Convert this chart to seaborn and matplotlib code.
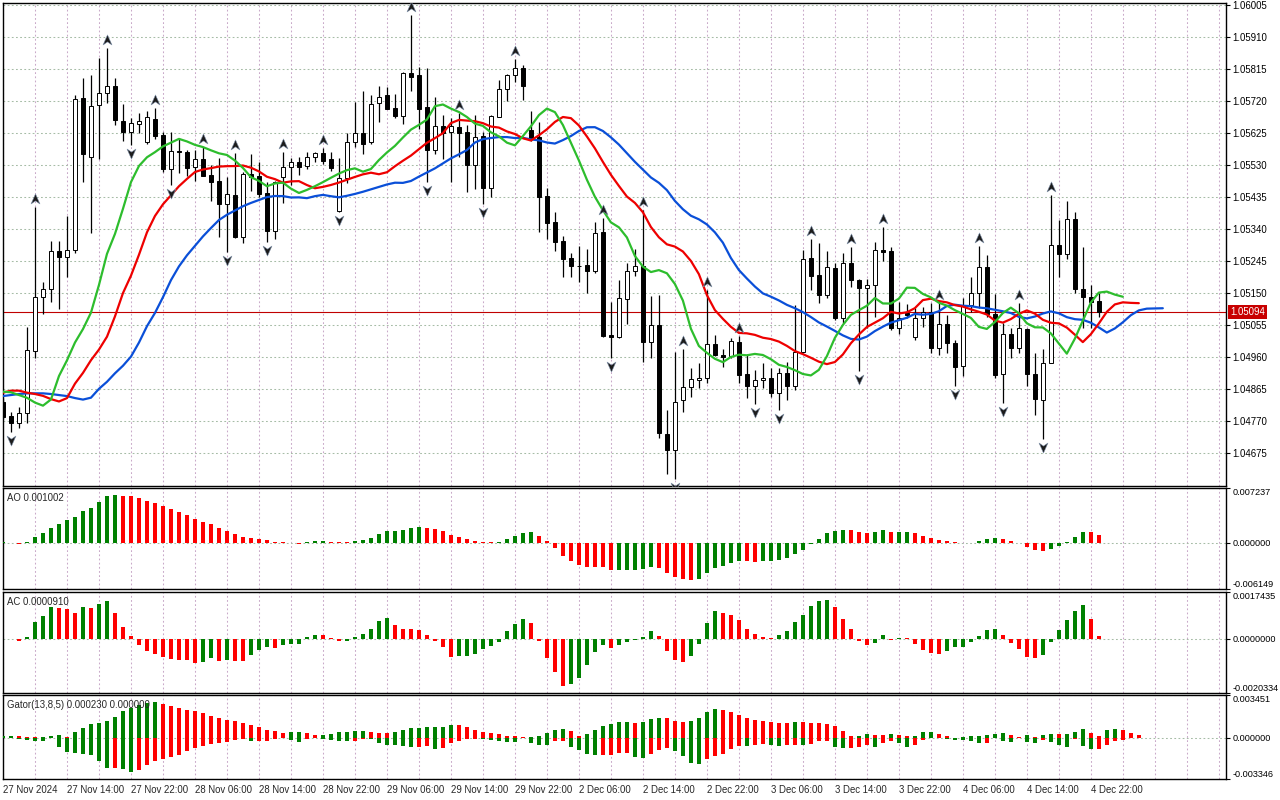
import numpy as np
import matplotlib
matplotlib.use("Agg")
import matplotlib.pyplot as plt
from matplotlib.path import Path
from matplotlib.transforms import offset_copy, blended_transform_factory
from matplotlib.ticker import MultipleLocator, FormatStrFormatter
import seaborn as sns

# EURUSD H1, 27 Nov 06:00 .. 4 Dec 23:00
opens = [1.04827, 1.04784, 1.04765, 1.04794, 1.04979, 1.05137, 1.05161, 1.05275, 1.05258, 1.05278,
         1.05728, 1.05555, 1.05707, 1.05743, 1.05765, 1.05661, 1.05627, 1.05651, 1.05597, 1.05667,
         1.05619, 1.05517, 1.05572, 1.05568, 1.05525, 1.05547, 1.05500, 1.05481, 1.05414, 1.05441,
         1.05317, 1.05503, 1.05497, 1.05448, 1.05335, 1.05493, 1.05525, 1.05538, 1.05528, 1.05553,
         1.05567, 1.05547, 1.05394, 1.05490, 1.05599, 1.05624, 1.05597, 1.05713, 1.05738, 1.05698,
         1.05676, 1.05804, 1.05797, 1.05701, 1.05573, 1.05646, 1.05627, 1.05644, 1.05627, 1.05531,
         1.05616, 1.05463, 1.05673, 1.05755, 1.05796, 1.05817, 1.05634, 1.05612, 1.05438, 1.05362,
         1.05304, 1.05255, 1.05231, 1.05233, 1.05216, 1.05332, 1.05025, 1.05018, 1.05132, 1.05215,
         1.05230, 1.05005, 1.05055, 1.04731, 1.04685, 1.04832, 1.04872, 1.04893, 1.04899, 1.04998,
         1.04966, 1.04963, 1.05005, 1.04909, 1.04875, 1.04891, 1.04899, 1.04852, 1.04911, 1.04875,
         1.04976, 1.05253, 1.05203, 1.05144, 1.05223, 1.05075, 1.05238, 1.05188, 1.05164, 1.05174,
         1.05279, 1.05276, 1.05045, 1.05091, 1.05018, 1.05075, 1.05094, 1.04987, 1.05058, 1.05002,
         1.04934, 1.05114, 1.05149, 1.05226, 1.05089, 1.04908, 1.05027, 1.04988, 1.05043, 1.04909,
         1.04832, 1.04941, 1.05292, 1.05266, 1.05369, 1.05161, 1.05137, 1.05126]
highs = [1.04837, 1.04797, 1.04810, 1.05050, 1.05406, 1.05183, 1.05305, 1.05305, 1.05378, 1.05738,
         1.05789, 1.05797, 1.05849, 1.05878, 1.05789, 1.05711, 1.05669, 1.05683, 1.05690, 1.05698,
         1.05629, 1.05627, 1.05609, 1.05573, 1.05575, 1.05583, 1.05529, 1.05550, 1.05495, 1.05565,
         1.05510, 1.05563, 1.05538, 1.05478, 1.05481, 1.05570, 1.05550, 1.05555, 1.05570, 1.05570,
         1.05579, 1.05570, 1.05550, 1.05624, 1.05718, 1.05751, 1.05738, 1.05763, 1.05761, 1.05741,
         1.05807, 1.05975, 1.05822, 1.05817, 1.05731, 1.05678, 1.05669, 1.05683, 1.05649, 1.05678,
         1.05629, 1.05678, 1.05782, 1.05800, 1.05844, 1.05827, 1.05690, 1.05659, 1.05461, 1.05390,
         1.05319, 1.05268, 1.05289, 1.05282, 1.05362, 1.05372, 1.05124, 1.05188, 1.05238, 1.05282,
         1.05396, 1.05141, 1.05144, 1.04804, 1.04976, 1.04985, 1.04926, 1.04941, 1.05159, 1.05025,
         1.04985, 1.05015, 1.05022, 1.04968, 1.04921, 1.04941, 1.04926, 1.04926, 1.04944, 1.05114,
         1.05278, 1.05309, 1.05297, 1.05276, 1.05238, 1.05268, 1.05287, 1.05190, 1.05190, 1.05302,
         1.05347, 1.05285, 1.05124, 1.05117, 1.05104, 1.05109, 1.05119, 1.05121, 1.05084, 1.05010,
         1.05134, 1.05198, 1.05289, 1.05263, 1.05147, 1.05060, 1.05045, 1.05121, 1.05045, 1.04971,
         1.04983, 1.05441, 1.05367, 1.05423, 1.05390, 1.05287, 1.05174, 1.05149]
lows = [1.04775, 1.04738, 1.04748, 1.04765, 1.04958, 1.05089, 1.05124, 1.05101, 1.05196, 1.05268,
        1.05480, 1.05329, 1.05548, 1.05713, 1.05649, 1.05601, 1.05589, 1.05624, 1.05592, 1.05606,
        1.05510, 1.05471, 1.05505, 1.05497, 1.05483, 1.05497, 1.05424, 1.05317, 1.05273, 1.05312,
        1.05297, 1.05454, 1.05436, 1.05300, 1.05309, 1.05416, 1.05471, 1.05500, 1.05518, 1.05538,
        1.05533, 1.05512, 1.05391, 1.05476, 1.05584, 1.05563, 1.05592, 1.05659, 1.05696, 1.05669,
        1.05651, 1.05751, 1.05637, 1.05480, 1.05563, 1.05548, 1.05480, 1.05555, 1.05451, 1.05458,
        1.05413, 1.05434, 1.05672, 1.05721, 1.05777, 1.05723, 1.05600, 1.05332, 1.05310, 1.05276,
        1.05196, 1.05198, 1.05183, 1.05149, 1.05210, 1.05018, 1.04956, 1.05015, 1.05057, 1.05200,
        1.04946, 1.04958, 1.04718, 1.04614, 1.04599, 1.04797, 1.04842, 1.04867, 1.04884, 1.04963,
        1.04931, 1.04956, 1.04884, 1.04839, 1.04820, 1.04867, 1.04840, 1.04802, 1.04832, 1.04862,
        1.04971, 1.05159, 1.05119, 1.05134, 1.05070, 1.05062, 1.05167, 1.04919, 1.05045, 1.05080,
        1.05246, 1.05040, 1.05027, 1.05075, 1.05010, 1.05048, 1.04971, 1.04966, 1.04973, 1.04875,
        1.04904, 1.05094, 1.05104, 1.05078, 1.04899, 1.04822, 1.04956, 1.04971, 1.04875, 1.04787,
        1.04716, 1.04941, 1.05198, 1.05250, 1.05149, 1.05045, 1.05045, 1.05078]
closes = [1.04783, 1.04765, 1.04794, 1.04981, 1.05139, 1.05161, 1.05275, 1.05258, 1.05278, 1.05726,
          1.05562, 1.05705, 1.05743, 1.05765, 1.05664, 1.05627, 1.05654, 1.05660, 1.05671, 1.05617,
          1.05517, 1.05572, 1.05569, 1.05520, 1.05547, 1.05498, 1.05480, 1.05414, 1.05444, 1.05317,
          1.05503, 1.05493, 1.05444, 1.05335, 1.05478, 1.05523, 1.05538, 1.05525, 1.05553, 1.05565,
          1.05542, 1.05520, 1.05490, 1.05599, 1.05624, 1.05592, 1.05710, 1.05733, 1.05697, 1.05676,
          1.05802, 1.05792, 1.05697, 1.05573, 1.05646, 1.05624, 1.05646, 1.05626, 1.05531, 1.05612,
          1.05463, 1.05675, 1.05755, 1.05796, 1.05817, 1.05763, 1.05606, 1.05436, 1.05359, 1.05302,
          1.05250, 1.05231, 1.05230, 1.05216, 1.05327, 1.05023, 1.05020, 1.05134, 1.05215, 1.05230,
          1.05005, 1.05055, 1.04733, 1.04685, 1.04827, 1.04872, 1.04894, 1.04899, 1.04998, 1.04966,
          1.04959, 1.05007, 1.04906, 1.04875, 1.04891, 1.04899, 1.04852, 1.04911, 1.04875, 1.04976,
          1.05250, 1.05200, 1.05144, 1.05226, 1.05075, 1.05238, 1.05188, 1.05164, 1.05174, 1.05279,
          1.05273, 1.05045, 1.05075, 1.05085, 1.05075, 1.05094, 1.04987, 1.05058, 1.05000, 1.04931,
          1.05114, 1.05149, 1.05226, 1.05089, 1.04906, 1.05027, 1.04988, 1.05045, 1.04908, 1.04834,
          1.04941, 1.05292, 1.05266, 1.05369, 1.05161, 1.05137, 1.05124, 1.05094]

# Awesome Oscillator values per bar
ao = [0.00002, 0.00000, -0.00013, 0.00005, 0.00075, 0.00124, 0.00194, 0.00243, 0.00296, 0.00336,
      0.00415, 0.00464, 0.00539, 0.00614, 0.00628, 0.00614, 0.00612, 0.00588, 0.00553, 0.00522,
      0.00482, 0.00442, 0.00402, 0.00362, 0.00309, 0.00270, 0.00243, 0.00190, 0.00155, 0.00111,
      0.00071, 0.00057, 0.00044, 0.00031, 0.00009, 0.00004, -0.00002, -0.00013, 0.00009, 0.00018,
      0.00019, 0.00013, 0.00004, 0.00003, 0.00018, 0.00031, 0.00057, 0.00111, 0.00150, 0.00151,
      0.00164, 0.00190, 0.00203, 0.00194, 0.00177, 0.00150, 0.00097, 0.00071, 0.00044, 0.00018,
      0.00009, 0.00002, 0.00004, 0.00044, 0.00084, 0.00124, 0.00137, 0.00084, 0.00018, -0.00066,
      -0.00177, -0.00248, -0.00301, -0.00323, -0.00325, -0.00327, -0.00365, -0.00363, -0.00362, -0.00361,
      -0.00354, -0.00323, -0.00336, -0.00402, -0.00455, -0.00486, -0.00499, -0.00486, -0.00407, -0.00340,
      -0.00314, -0.00274, -0.00248, -0.00250, -0.00252, -0.00250, -0.00247, -0.00234, -0.00208, -0.00155,
      -0.00102, -0.00022, 0.00053, 0.00124, 0.00159, 0.00172, 0.00171, 0.00146, 0.00133, 0.00137,
      0.00164, 0.00137, 0.00146, 0.00147, 0.00124, 0.00084, 0.00057, 0.00031, 0.00018, 0.00009,
      -0.00009, -0.00002, 0.00018, 0.00044, 0.00057, 0.00044, 0.00018, -0.00009, -0.00057, -0.00093,
      -0.00111, -0.00084, -0.00044, 0.00005, 0.00072, 0.00143, 0.00135, 0.001002]

# alligator lines left of the first bar (shifted values visible at the chart start)
jaw_start = [1.04844, 1.04847, 1.04850, 1.04852, 1.04852, 1.04852, 1.04850, 1.04847]
teeth_start = [1.04854, 1.04860, 1.04860, 1.04854, 1.04850]
lips_start = [1.04857, 1.04855, 1.04847]

fractal_up = [4, 13, 19, 25, 29, 35, 40, 51, 57, 64, 75, 80, 85, 88, 92, 101, 106, 110, 117, 122, 127, 131]
fractal_down = [1, 16, 21, 28, 33, 42, 53, 60, 76, 84, 94, 97, 107, 119, 125, 130]

time_pos = [0, 8, 16, 24, 32, 40, 48, 56, 64, 72, 80, 88, 96, 104, 112, 120, 128, 136]
time_labels = ["27 Nov 2024", "27 Nov 14:00", "27 Nov 22:00", "28 Nov 06:00", "28 Nov 14:00",
               "28 Nov 22:00", "29 Nov 06:00", "29 Nov 14:00", "29 Nov 22:00", "2 Dec 06:00",
               "2 Dec 14:00", "2 Dec 22:00", "3 Dec 06:00", "3 Dec 14:00", "3 Dec 22:00",
               "4 Dec 06:00", "4 Dec 14:00", "4 Dec 22:00"]

price_levels = np.round(1.04675 + 0.00095 * np.arange(15), 5)

sns.set_style("white")
plt.rcParams["font.family"] = ["Liberation Sans", "DejaVu Sans"]
plt.rcParams["font.size"] = 6.9

o, h, l, c = map(np.array, (opens, highs, lows, closes))
x = np.arange(len(c))
median = (h + l) / 2
ao = np.array(ao)


def smma(start, n):
    vals = list(start)
    s = start[-1]
    for m in median:
        s = (s * (n - 1) + m) / n
        vals.append(s)
    return np.array(vals)


jaw = smma(jaw_start, 13)
teeth = smma(teeth_start, 8)
lips = smma(lips_start, 5)

ac = np.array([ao[k] - ao[max(0, k - 4):k + 1].mean() for k in range(len(ao))])
gator_up = np.abs(jaw[:len(teeth)] - teeth)
gator_dn = -np.abs(teeth[:len(lips)] - lips)

GREEN, RED = "#008000", "#ff0000"


def rise_colors(v):
    return [GREEN if i == 0 or v[i] > v[i - 1] else RED for i in range(len(v))]


HGRID, VGRID = "#a6bca6", "#c9a9c9"
DASH = (0, (1.7, 2.3))
FS = 6.9
YFS = 6.6
XMAX = 152.9

fig = plt.figure(figsize=(12.8, 8), dpi=100)
fig.patch.set_facecolor("white")
L, W = 3 / 1280, 1223 / 1280
ax = fig.add_axes([L, 1 - 486 / 800, W, 483 / 800])
ax_ao = fig.add_axes([L, 1 - 589 / 800, W, 101 / 800])
ax_ac = fig.add_axes([L, 1 - 693 / 800, W, 101 / 800])
ax_g = fig.add_axes([L, 1 - 779 / 800, W, 84 / 800])


def setup(a, ylo, yhi, ticks, fmt):
    a.set_xlim(0, XMAX)
    a.set_ylim(ylo, yhi)
    a.set_facecolor("white")
    a.xaxis.set_minor_locator(MultipleLocator(4))
    a.set_xticks(time_pos)
    a.grid(True, which="both", axis="x", color=VGRID, linestyle=DASH, linewidth=0.75)
    a.yaxis.tick_right()
    a.set_yticks(ticks)
    a.yaxis.set_major_formatter(FormatStrFormatter(fmt))
    a.grid(True, which="major", axis="y", color=HGRID, linestyle=DASH, linewidth=0.75)
    a.tick_params(axis="x", which="both", length=0, labelbottom=False)
    a.tick_params(axis="y", length=3, width=0.8, direction="out", pad=1.5, labelsize=YFS,
                  colors="black")
    for s in a.spines.values():
        s.set_color("black")
        s.set_linewidth(1.0)
    a.set_axisbelow(True)


# main price panel
setup(ax, 1.045769, 1.060109, price_levels, "%.5f")
ax.tick_params(axis="y", labelsize=FS)
ax.axhline(c[-1], color="#c00000", linewidth=0.8, zorder=1.5)
ax.vlines(x, l, h, color="black", linewidth=0.9, zorder=2)
bull = c >= o
body = np.maximum(np.abs(c - o), 0.00001)
ax.bar(x, body, bottom=np.minimum(o, c), width=0.52,
       color=np.where(bull, "white", "black"), edgecolor="black", linewidth=0.7, zorder=3)

sns.lineplot(x=np.arange(len(jaw)), y=jaw, ax=ax, color="#0a4fd8", linewidth=1.6, zorder=4)
sns.lineplot(x=np.arange(len(teeth)), y=teeth, ax=ax, color="#ee0000", linewidth=1.6, zorder=4)
sns.lineplot(x=np.arange(len(lips)), y=lips, ax=ax, color="#2dbd2d", linewidth=1.6, zorder=4)
ax.set_xlabel("")
ax.set_ylabel("")

up_marker = Path([(0, 1), (0.8, -0.8), (0, -0.25), (-0.8, -0.8), (0, 1)],
                 [Path.MOVETO, Path.LINETO, Path.LINETO, Path.LINETO, Path.CLOSEPOLY])
down_marker = Path([(0, -1), (0.8, 0.8), (0, 0.25), (-0.8, 0.8), (0, -1)],
                   [Path.MOVETO, Path.LINETO, Path.LINETO, Path.LINETO, Path.CLOSEPOLY])
ax.plot(fractal_up, h[fractal_up], linestyle="none", marker=up_marker, markersize=8,
        color="#1c1c1c", markeredgecolor="#7d8fa8", markeredgewidth=0.4,
        transform=offset_copy(ax.transData, fig=fig, y=8, units="dots"), zorder=6)
ax.plot(fractal_down, l[fractal_down], linestyle="none", marker=down_marker, markersize=8,
        color="#1c1c1c", markeredgecolor="#7d8fa8", markeredgewidth=0.4,
        transform=offset_copy(ax.transData, fig=fig, y=-8, units="dots"), zorder=6)

ax.text(1.0035, c[-1], f"{c[-1]:.5f}", color="white", fontsize=FS, va="center", ha="left",
        transform=blended_transform_factory(ax.transAxes, ax.transData), clip_on=False,
        bbox=dict(boxstyle="square,pad=0.22", fc="#c80000", ec="none"), zorder=7)

# AO
setup(ax_ao, -0.006149, 0.007237, [-0.006149, 0.0, 0.007237], "%.6f")
ax_ao.bar(x, ao, width=0.5, color=rise_colors(ao), linewidth=0, zorder=3)
ax_ao.text(0.003, 0.955, "AO 0.001002", transform=ax_ao.transAxes, va="top", ha="left", fontsize=FS)

# AC
setup(ax_ac, -0.0020334, 0.0017435, [-0.0020334, 0.0, 0.0017435], "%.7f")
ax_ac.bar(x, ac, width=0.5, color=rise_colors(ac), linewidth=0, zorder=3)
ax_ac.text(0.003, 0.955, "AC 0.0000910", transform=ax_ac.transAxes, va="top", ha="left", fontsize=FS)

# Gator
setup(ax_g, -0.003346, 0.003451, [-0.003346, 0.0, 0.003451], "%.6f")
ax_g.bar(np.arange(len(gator_up)), gator_up, width=0.45, color=rise_colors(gator_up), linewidth=0, zorder=3)
ax_g.bar(np.arange(len(gator_dn)), gator_dn, width=0.45, color=rise_colors(np.abs(gator_dn)), linewidth=0, zorder=3)
ax_g.text(0.003, 0.935, "Gator(13,8,5) 0.000230 0.000000", transform=ax_g.transAxes,
          va="top", ha="left", fontsize=FS)
ax_g.set_xticks(time_pos, time_labels)
ax_g.tick_params(axis="x", which="major", length=3, width=0.8, direction="out", pad=1.5,
                 labelbottom=True, labelsize=FS)
for lab in ax_g.get_xticklabels():
    lab.set_horizontalalignment("left")

for a in (ax_ao, ax_ac, ax_g):
    labs = a.get_yticklabels()
    labs[0].set_verticalalignment("bottom")
    labs[-1].set_verticalalignment("top")

fig.savefig("out.png", dpi=100)
